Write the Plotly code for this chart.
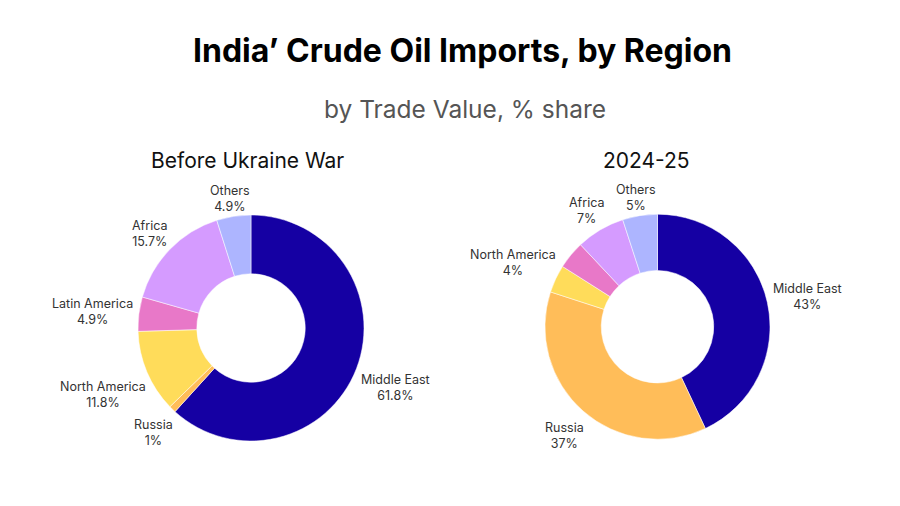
import math
import plotly.graph_objects as go

regions = ["Middle East", "Russia", "North America", "Latin America", "Africa", "Others"]
before_values = [61.8, 1, 11.8, 4.9, 15.7, 4.9]
after_values = [43, 37, 4, 4, 7, 5]
after_labels_shown = ["Middle East", "Russia", "North America", "", "Africa", "Others"]
colors = ["#1500a3", "#ffbd59", "#ffdc5a", "#e878c8", "#d59bff", "#adb5ff"]

W, H = 900, 506
LABEL_FS = 12.5


def dom(cx, cy, r):
    return dict(x=[(cx - r) / W, (cx + r) / W], y=[1 - (cy + r) / H, 1 - (cy - r) / H])


def slice_labels(values, names, cx, cy, r, pad=4, ydrop=3.5):
    """Place each slice label centred on the slice's mid-angle, just outside the ring."""
    total = sum(values)
    cum = 0.0
    out = []
    for v, name in zip(values, names):
        mid = (cum + v / 2) / total * 2 * math.pi
        cum += v
        if not name:
            continue
        lines = [name, f"{v:g}%"]
        w = max(len(s) for s in lines) * 6.3
        h = len(lines) * 15
        s, c = math.sin(mid), math.cos(mid)
        d = r + pad + abs(s) * w / 2 + abs(c) * h / 2
        x, y = cx + d * s, cy - d * c + ydrop
        out.append(dict(text="<br>".join(lines), x=x / W, y=1 - y / H, xref="paper", yref="paper",
                        showarrow=False, xanchor="center", yanchor="middle",
                        font=dict(family="Inter", size=LABEL_FS, color="#333333")))
    return out


P1 = (251, 328, 113)
P2 = (657.5, 326.7, 112.5)

fig = go.Figure()
fig.add_trace(go.Pie(
    labels=regions, values=before_values, textinfo="none",
    hole=0.48, sort=False, direction="clockwise", rotation=0,
    marker=dict(colors=colors, line=dict(color="white", width=0.5)),
    domain=dom(*P1), showlegend=False, hoverinfo="label+value",
))
fig.add_trace(go.Pie(
    labels=regions, values=after_values, textinfo="none",
    hole=0.5, sort=False, direction="clockwise", rotation=0,
    marker=dict(colors=colors, line=dict(color="white", width=0.5)),
    domain=dom(*P2), showlegend=False, hoverinfo="label+value",
))

annotations = [
    dict(text="<b>India’ Crude Oil Imports, by Region</b>", x=462 / W, y=1 - 51 / H, xref="paper", yref="paper",
         showarrow=False, font=dict(size=32, color="#000000", family="Inter"), xanchor="center", yanchor="middle"),
    dict(text="by Trade Value, % share", x=465 / W, y=1 - 109 / H, xref="paper", yref="paper",
         showarrow=False, font=dict(size=24.5, color="#555555", family="Inter"), xanchor="center", yanchor="middle"),
    dict(text="Before Ukraine War", x=247.5 / W, y=1 - 161 / H, xref="paper", yref="paper",
         showarrow=False, font=dict(size=21, color="#111111", family="Inter"), xanchor="center", yanchor="middle"),
    dict(text="2024-25", x=646 / W, y=1 - 161 / H, xref="paper", yref="paper",
         showarrow=False, font=dict(size=21, color="#111111", family="Inter"), xanchor="center", yanchor="middle"),
]
annotations += slice_labels(before_values, regions, *P1)
annotations += slice_labels(after_values, after_labels_shown, *P2)

fig.update_layout(
    width=W, height=H,
    margin=dict(l=0, r=0, t=0, b=0),
    paper_bgcolor="white",
    font=dict(family="Inter", color="#333333"),
    annotations=annotations,
)

fig.write_html("out.html")
